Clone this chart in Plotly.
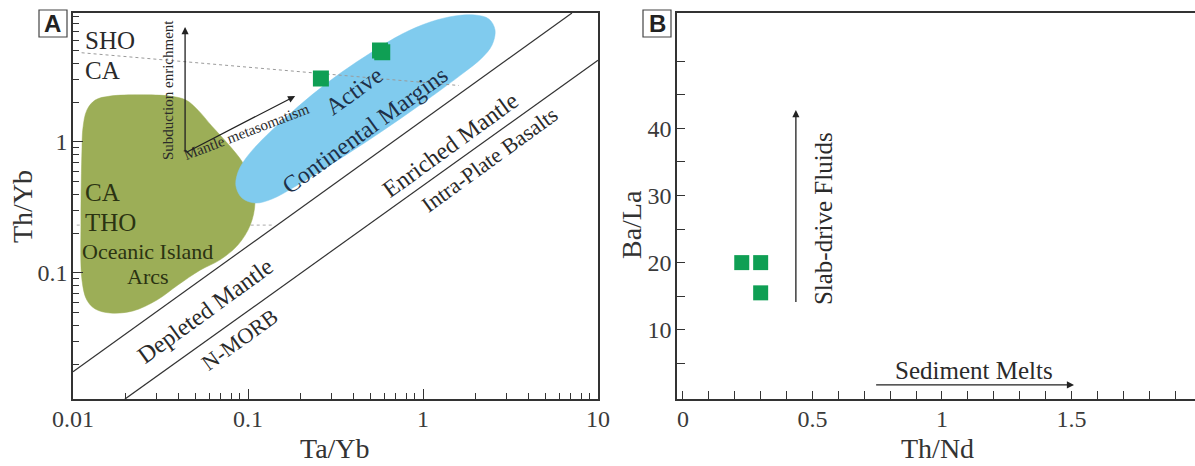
import numpy as np
import plotly.graph_objects as go

# ---------------- data ----------------
# Panel A samples (Ta/Yb vs Th/Yb)
a_ta_yb = [0.261, 0.568, 0.585]
a_th_yb = [3.05, 5.0, 4.85]
# Panel B samples (Th/Nd vs Ba/La)
b_th_nd = [0.227, 0.30, 0.30]
b_ba_la = [20.0, 20.0, 15.5]

# Oceanic Island Arcs field outline
oia_ta_yb = [0.01125, 0.0114, 0.0120, 0.0134, 0.0163, 0.0241, 0.0358, 0.0442, 0.0518,
             0.0622, 0.0769, 0.0936, 0.1054, 0.1096, 0.103, 0.0877, 0.0692,
             0.0532, 0.0398, 0.0302, 0.0220, 0.0163, 0.0134, 0.0120, 0.01125, 0.0111, 0.01125]
oia_th_yb = [0.869, 1.28, 1.75, 2.09, 2.24, 2.29, 2.24, 2.09, 1.75,
             1.32, 0.966, 0.692, 0.486, 0.342, 0.232, 0.164, 0.126,
             0.105, 0.081, 0.0622, 0.0513, 0.0495, 0.0531, 0.0622, 0.0885, 0.254, 0.869]

# Active Continental Margins field outline
acm_ta_yb = [2.58, 2.48, 2.17, 1.67, 1.13, 0.739, 0.472, 0.294, 0.188, 0.137, 0.110,
             0.0924, 0.0853, 0.0877, 0.0975, 0.120, 0.163, 0.232, 0.344, 0.511, 0.759,
             1.10, 1.52, 1.98, 2.38, 2.58]
acm_th_yb = [7.16, 5.50, 4.38, 3.30, 2.24, 1.50, 1.00, 0.667, 0.461, 0.367, 0.342,
             0.374, 0.461, 0.590, 0.755, 1.036, 1.52, 2.29, 3.42, 4.86, 6.67,
             8.24, 9.16, 9.32, 8.69, 7.16]

# MORB-OIB array boundaries
upper_ta_yb = [0.01, 7.1]
upper_th_yb = [0.0176, 9.66]
lower_ta_yb = [0.0198, 10.0]
lower_th_yb = [0.0109, 4.2]

# dotted boundaries SHO/CA and CA/THO
shoca_ta_yb = [0.0112, 1.6]
shoca_th_yb = [4.8, 2.7]
catho_ta_yb = [0.0105, 0.137]
catho_th_yb = [0.232, 0.232]

# axis ticks
a_x_ticks = [0.01, 0.1, 1, 10]
a_x_text = ["0.01", "0.1", "1", "10"]
a_y_ticks = [0.1, 1]
a_y_text = ["0.1", "1"]
log_minor = [m * d for d in (0.01, 0.1, 1) for m in range(2, 10)]
b_x_ticks = [0, 0.5, 1, 1.5]
b_x_text = ["0", "0.5", "1", "1.5"]
b_x_minor = [round(0.1 * i, 1) for i in range(1, 20)]
b_y_ticks = [10, 20, 30, 40]
b_y_text = ["10", "20", "30", "40"]
b_y_minor = [5, 15, 25, 35, 45, 50]

# ---------------- style ----------------
SERIF = "Liberation Serif"
SANS = "Liberation Sans"
INK = "#2a2a2a"
AXC = "#333333"
GREEN_FIELD = "#9cae57"
BLUE_FIELD = "#80cbee"
SQ = "#0f9f54"
L = np.log10

fig = go.Figure()

fig.add_trace(go.Scatter(x=catho_ta_yb, y=catho_th_yb, mode="lines",
                         line=dict(color="#aaaaaa", width=1, dash="dot"),
                         xaxis="x", yaxis="y", hoverinfo="skip"))
fig.add_trace(go.Scatter(x=oia_ta_yb, y=oia_th_yb, mode="lines", fill="toself",
                         fillcolor=GREEN_FIELD, line=dict(color=GREEN_FIELD, width=0.5, shape="spline"),
                         xaxis="x", yaxis="y", hoverinfo="skip"))
fig.add_trace(go.Scatter(x=acm_ta_yb, y=acm_th_yb, mode="lines", fill="toself",
                         fillcolor=BLUE_FIELD, line=dict(color=BLUE_FIELD, width=0.5, shape="spline"),
                         xaxis="x", yaxis="y", hoverinfo="skip"))
fig.add_trace(go.Scatter(x=shoca_ta_yb, y=shoca_th_yb, mode="lines",
                         line=dict(color="#9a9a9a", width=1, dash="dot"),
                         xaxis="x", yaxis="y", hoverinfo="skip"))
for xs, ys in ((upper_ta_yb, upper_th_yb), (lower_ta_yb, lower_th_yb)):
    fig.add_trace(go.Scatter(x=xs, y=ys, mode="lines", line=dict(color=AXC, width=1.2),
                             xaxis="x", yaxis="y", hoverinfo="skip"))
fig.add_trace(go.Scatter(x=a_ta_yb, y=a_th_yb, mode="markers",
                         marker=dict(symbol="square", size=16, color=SQ),
                         xaxis="x", yaxis="y"))
fig.add_trace(go.Scatter(x=b_th_nd, y=b_ba_la, mode="markers",
                         marker=dict(symbol="square", size=15, color=SQ),
                         xaxis="x2", yaxis="y2"))

tickfont = dict(family=SERIF, size=24, color="#3a3a3a")
common = dict(showline=True, linecolor=AXC, linewidth=1.5, showgrid=False, zeroline=False,
              ticks="inside", tickcolor=AXC, tickfont=tickfont, automargin=False)

fig.update_layout(
    width=1195, height=466, margin=dict(l=0, r=0, t=0, b=0, autoexpand=False),
    paper_bgcolor="white", plot_bgcolor="white", showlegend=False,
    xaxis=dict(type="log", range=[-2, 1], domain=[0.06109, 0.50042], anchor="y",
               tickmode="array", tickvals=a_x_ticks, ticktext=a_x_text, ticklen=10,
               mirror=True, ticklabelstandoff=-3,
               minor=dict(tickmode="array", tickvals=log_minor, ticks="inside", ticklen=6,
                          tickcolor=AXC), **common),
    yaxis=dict(type="log", range=[-1.962, 0.987], domain=[0.14378, 0.97275], anchor="x",
               tickmode="array", tickvals=a_y_ticks, ticktext=a_y_text, ticklen=10,
               mirror=True, ticklabelstandoff=-1,
               minor=dict(tickmode="array", tickvals=log_minor, ticks="inside", ticklen=6,
                          tickcolor=AXC), **common),
    xaxis2=dict(range=[-0.023, 1.977], domain=[0.56653, 1.0], anchor="y2",
                tickmode="array", tickvals=b_x_ticks, ticktext=b_x_text, ticklen=8,
                mirror=True, ticklabelstandoff=-3,
                minor=dict(tickmode="array", tickvals=b_x_minor, ticks="inside", ticklen=8,
                           tickcolor=AXC), **common),
    yaxis2=dict(range=[-0.3, 57.2], domain=[0.14378, 0.97275], anchor="x2",
                tickmode="array", tickvals=b_y_ticks, ticktext=b_y_text, ticklen=8,
                ticklabelstandoff=-1,
                minor=dict(tickmode="array", tickvals=b_y_minor, ticks="inside", ticklen=8,
                           tickcolor=AXC), **common),
)

ann = []

def txt(text, x, y, size, color=INK, angle=0, xanchor="center", xref="x", yref="y", log=True, family=SERIF):
    ann.append(dict(text=text, x=L(x) if log else x, y=L(y) if log else y, xref=xref, yref=yref,
                    showarrow=False, textangle=angle, xanchor=xanchor, yanchor="middle",
                    font=dict(family=family, size=size, color=color)))

# Panel A labels
txt("SHO", 0.0114, 6.0, 25, xanchor="left")
txt("CA", 0.0114, 3.54, 25, xanchor="left")
txt("CA", 0.0114, 0.415, 25, color="#2b3312", xanchor="left")
txt("THO", 0.0114, 0.245, 25, color="#2b3312", xanchor="left")
txt("Oceanic Island", 0.0268, 0.147, 22, color="#2b3312")
txt("Arcs", 0.0268, 0.0932, 22, color="#2b3312")
txt("Subduction enrichment", 0.0349, 2.49, 15, angle=-90)
txt("Mantle metasomatism", 0.0975, 1.19, 15, angle=-21)
txt("Active", 0.404, 2.45, 24, color="#1e3048", angle=-36)
txt("Continental Margins", 0.467, 1.235, 24, color="#1e3048", angle=-36)
txt("Enriched Mantle", 1.43, 0.95, 24, angle=-36)
txt("Intra-Plate Basalts", 2.41, 0.729, 22, angle=-36)
txt("Depleted Mantle", 0.0568, 0.0513, 24, angle=-36)
txt("N-MORB", 0.090, 0.0308, 22, angle=-36)

# Panel B labels
txt("Slab-drive Fluids", 0.54, 26.6, 25, angle=-90, xref="x2", yref="y2", log=False)
txt("Sediment Melts", 1.124, 4.0, 25, xref="x2", yref="y2", log=False)

# Axis titles
for t, x, y, ang in (("Th/Yb", 0.01925, 0.5558, -90), ("Ta/Yb", 0.2803, 0.0365, 0),
                     ("Ba/La", 0.5289, 0.5172, -90), ("Th/Nd", 0.7849, 0.0365, 0)):
    txt(t, x, y, 28, color="#333333", angle=ang, xref="paper", yref="paper", log=False)

# Panel letters
for t, x in (("A", 0.04435), ("B", 0.5498)):
    txt("<b>%s</b>" % t, x, 0.9496, 24, color="#222222", xref="paper", yref="paper", log=False, family=SANS)

def arrow(x0, y0, x1, y1, xref, yref, log):
    f = L if log else (lambda v: v)
    ann.append(dict(x=f(x1), y=f(y1), ax=f(x0), ay=f(y0), xref=xref, yref=yref,
                    axref=xref, ayref=yref, text="", showarrow=True, arrowhead=2,
                    arrowsize=1.1, arrowwidth=1.3, arrowcolor="#222222", standoff=0))

arrow(0.0437, 0.824, 0.0437, 7.55, "x", "y", True)
arrow(0.0437, 0.824, 0.186, 2.24, "x", "y", True)
arrow(0.436, 13.9, 0.436, 42.7, "x2", "y2", False)
arrow(0.74, 1.8, 1.51, 1.8, "x2", "y2", False)

fig.update_layout(annotations=ann)

shapes = []
for x0, x1 in ((39, 67), (643, 671)):
    shapes.append(dict(type="rect", xref="paper", yref="paper", x0=x0 / 1195, x1=x1 / 1195,
                       y0=1 - 37 / 466, y1=1 - 10 / 466, line=dict(color="#444444", width=1.2),
                       fillcolor="white", layer="below"))
fig.update_layout(shapes=shapes)

fig.write_html("out.html", config={"displayModeBar": False},
               post_script="document.body.style.margin='0px';document.body.style.padding='0px';")
